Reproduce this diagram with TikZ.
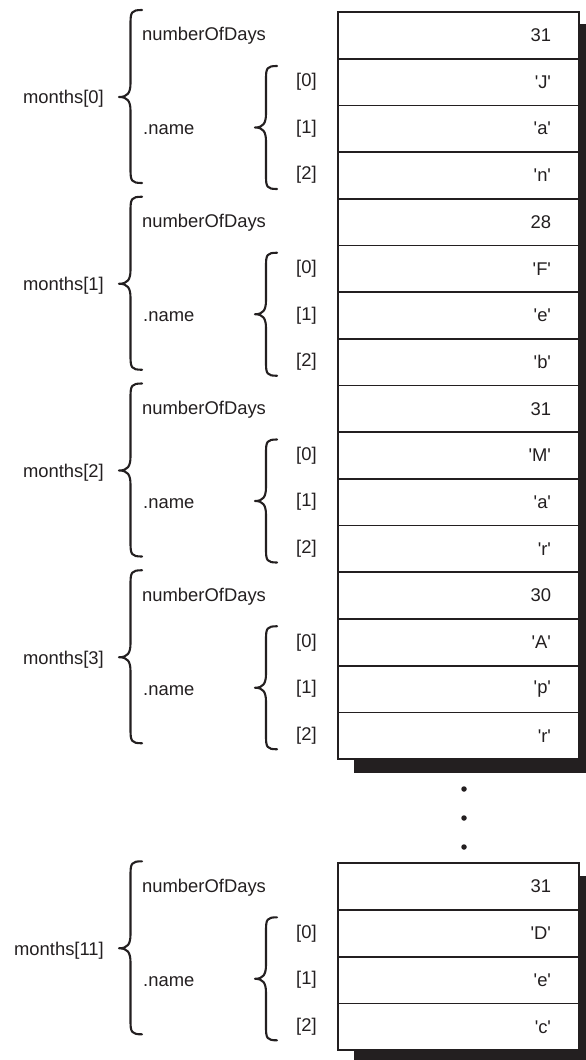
\documentclass[tikz,border=0pt]{standalone}
\usepackage{fontspec}
\setmainfont{Liberation Sans}
\definecolor{ink}{HTML}{231F20}
\newcommand\q[1]{\textquotesingle#1\textquotesingle}
\newcommand\cbrace[5]{%
  \pgfmathsetmacro\xv{(#1+#2)/2}%
  \pgfmathsetmacro\rr{(#2-#1)/2}%
  \draw[bracestyle] ({#2},{#3}) .. controls ({\xv+1},{#3}) and ({\xv},{#3+2}) .. ({\xv},{#3+\rr+2})
    -- ({\xv},{#4-14}) .. controls ({\xv},{#4-4}) and ({\xv-3},{#4}) .. ({#1},{#4})
    .. controls ({\xv-3},{#4}) and ({\xv},{#4+4}) .. ({\xv},{#4+14})
    -- ({\xv},{#5-\rr-2}) .. controls ({\xv},{#5-2}) and ({\xv+1},{#5}) .. ({#2},{#5});}
\begin{document}
\begin{tikzpicture}[x=1pt,y=-1pt,
  font=\fontsize{18.4}{22}\selectfont,
  every node/.style={text=ink},
  cell/.style={draw=ink, line width=1.7pt, fill=white, minimum width=241pt,
    minimum height=46.7pt, text width=185pt, align=right, inner sep=0pt},
  lbl/.style={anchor=west, inner sep=0pt},
  bracestyle/.style={draw=ink, line width=2.1pt, line cap=round, line join=round},
  dotnode/.style={circle, fill=ink, inner sep=0pt, minimum size=5.5pt}]
\useasboundingbox (0,0) rectangle (586,1060);
\clip (0,0) rectangle (586,1060);
% shadows
\fill[ink] (354,24) rectangle (600,773);
\fill[ink] (354,876) rectangle (600,1070);
\foreach \g/\t/\n/\a/\b/\c in {0/12/31/J/a/n, 1/198.75/28/F/e/b, 2/385.5/31/M/a/r, 3/572.25/30/A/p/r, 11/863.3/31/D/e/c} {
  \node[cell] (n\g) at ({458.5},{\t+23.35}) {\n};
  \node[cell] (a\g) at ({458.5},{\t+70.05}) {\q{\a}};
  \node[cell] (b\g) at ({458.5},{\t+116.75}) {\q{\b}};
  \node[cell] (c\g) at ({458.5},{\t+163.45}) {\q{\c}};
  \node[anchor=east, inner sep=0pt] (m\g) at ({104},{\t+87}) {months[\g]};
  \node[lbl] (d\g) at ({142},{\t+24}) {numberOfDays};
  \node[lbl] (nm\g) at ({143},{\t+118}) {.name};
  \node[lbl] (i0\g) at ({296},{\t+70}) {[0]};
  \node[lbl] (i1\g) at ({296},{\t+116.5}) {[1]};
  \node[lbl] (i2\g) at ({296},{\t+163}) {[2]};
  \cbrace{119}{142}{\t-2}{\t+85}{\t+171}
  \cbrace{255}{277}{\t+54}{\t+115.5}{\t+177}
}
\node[dotnode] (dot1) at (464,789) {};
\node[dotnode] (dot2) at (464,818) {};
\node[dotnode] (dot3) at (464,847) {};
\end{tikzpicture}
\end{document}
